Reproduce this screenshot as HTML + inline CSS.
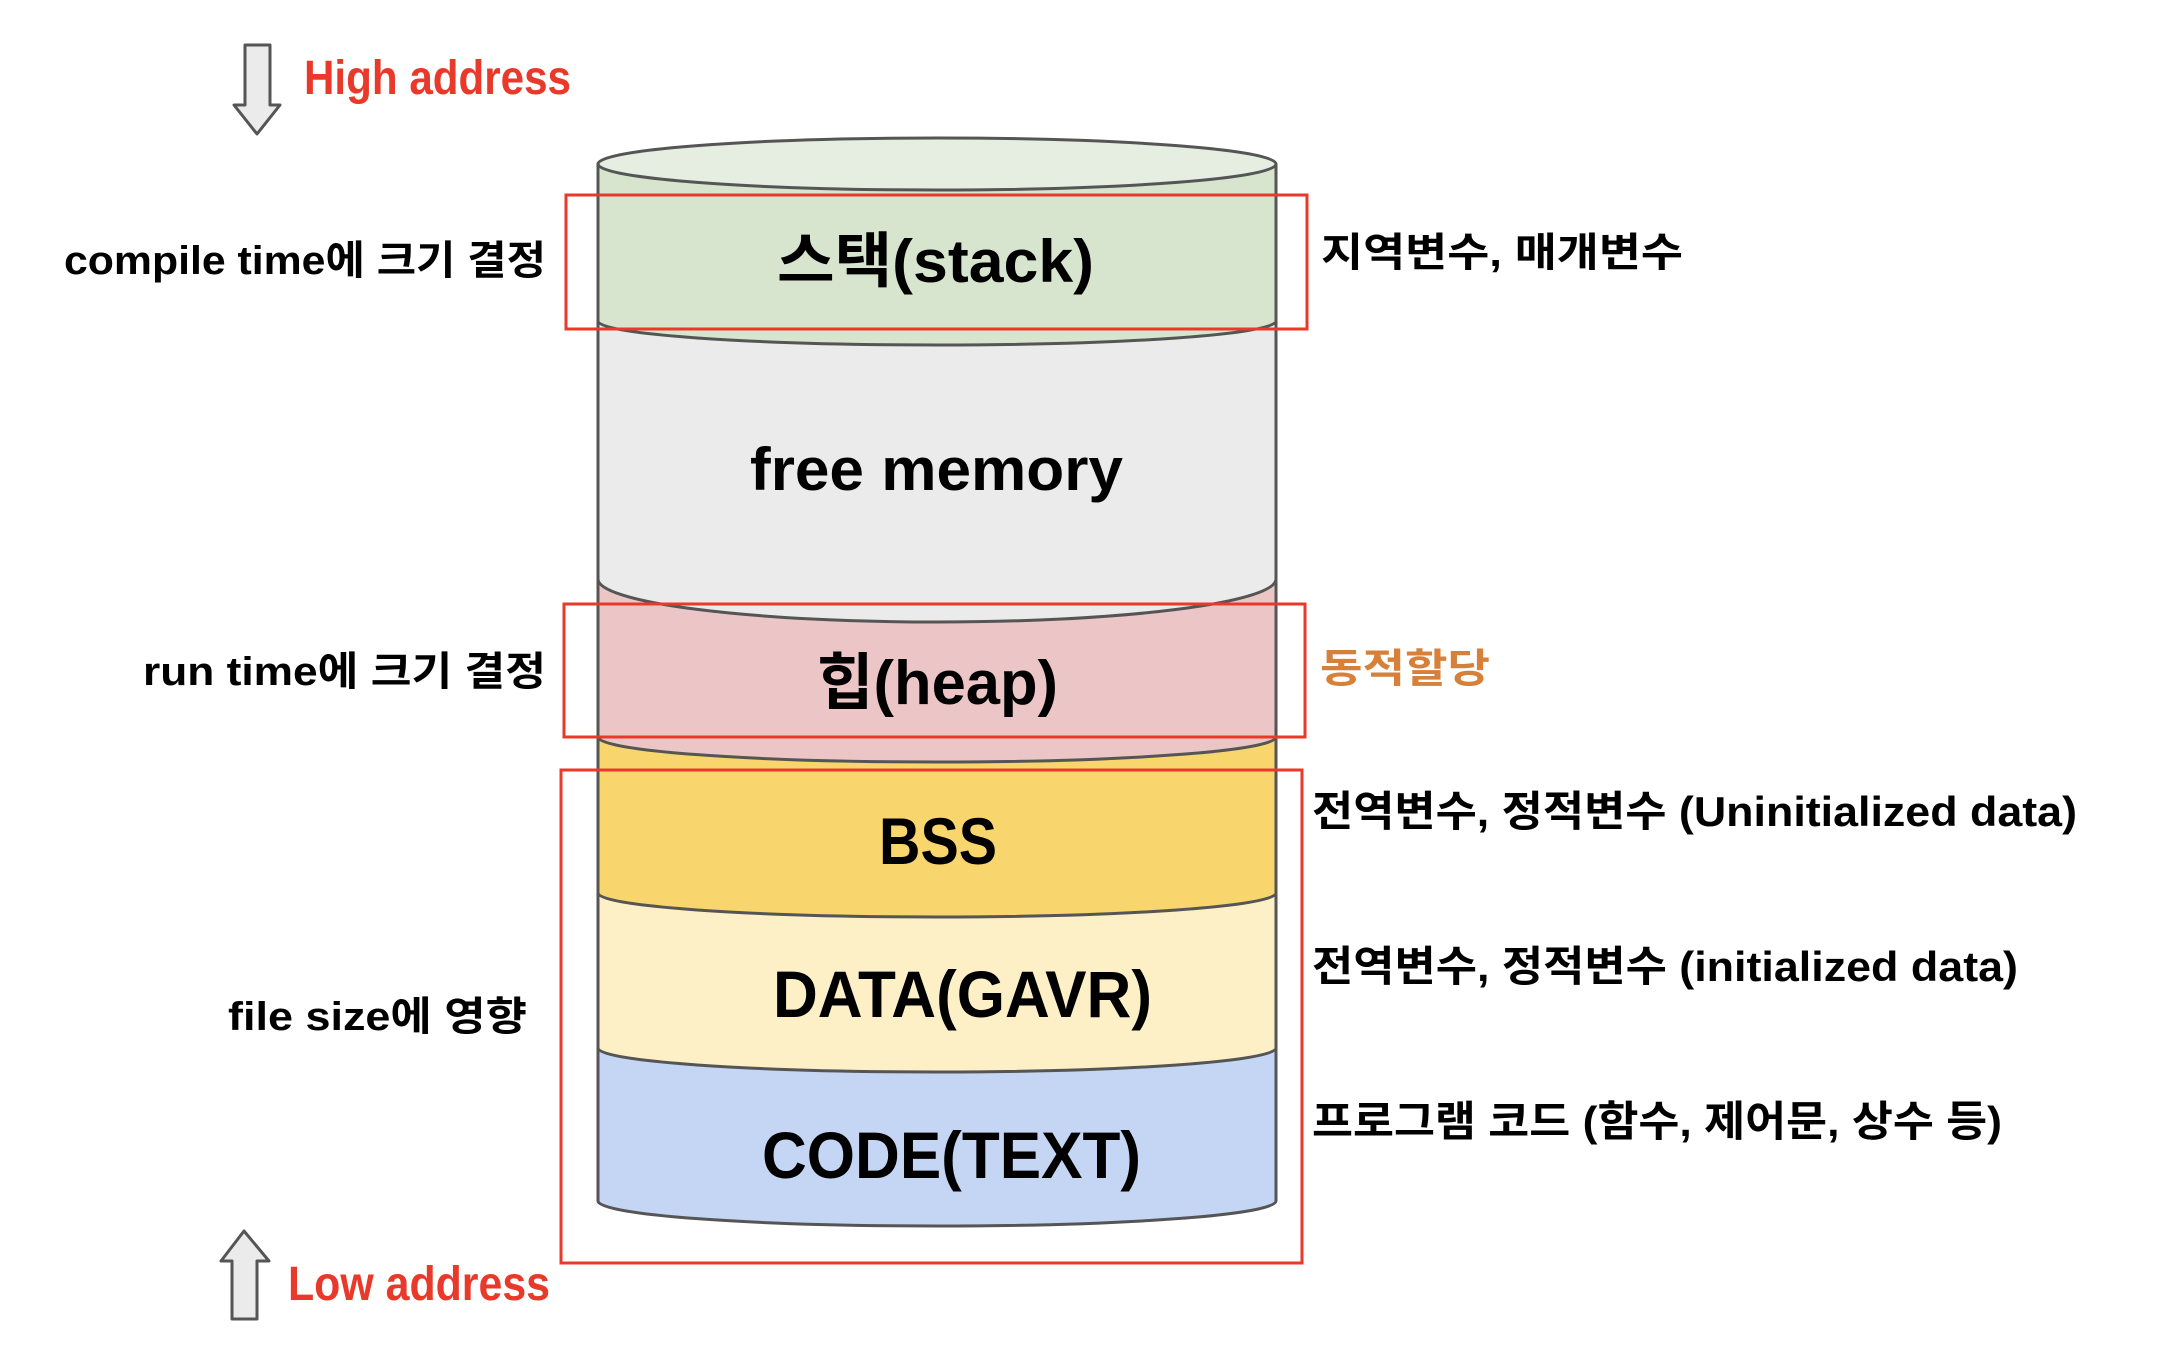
<!DOCTYPE html>
<html><head><meta charset="utf-8"><style>
html,body{margin:0;padding:0;background:#fff;}
svg{display:block}
text{font-family:"Liberation Sans","Noto Sans CJK KR",sans-serif;font-weight:bold;}
</style></head><body>
<svg width="2176" height="1366" viewBox="0 0 2176 1366" xmlns="http://www.w3.org/2000/svg">
<g stroke="#555" stroke-width="3" stroke-linejoin="round">
<path d="M598,1048 L598,1201 A339,25 0 0 0 1276,1201 L1276,1048 Z" fill="#c5d6f5"/>
<path d="M598,893 L598,1048 A339,24 0 0 0 1276,1048 L1276,893 Z" fill="#fdefc6"/>
<path d="M598,737 L598,893 A339,24 0 0 0 1276,893 L1276,737 Z" fill="#f9d56e"/>
<path d="M598,579 L598,737 A339,25 0 0 0 1276,737 L1276,579 Z" fill="#ecc6c6"/>
<path d="M598,321 L598,579 A339,43 0 0 0 1276,579 L1276,321 Z" fill="#ebebeb"/>
<path d="M598,164 L598,321 A339,24 0 0 0 1276,321 L1276,164 Z" fill="#d7e5cf"/>
<ellipse cx="937" cy="164" rx="339" ry="26" fill="#e5eee1"/>
</g>
<g fill="none" stroke="#e8392a" stroke-width="3">
<rect x="566" y="195" width="741" height="134"/>
<rect x="564" y="604" width="741" height="133"/>
<rect x="561" y="770" width="741" height="493"/>
</g>
<g fill="#ebebeb" stroke="#555" stroke-width="3" stroke-linejoin="round">
<path d="M245,45 L270,45 L270,105 L280,105 L257,134 L234,105 L245,105 Z"/>
<path d="M244,1231 L269,1261 L257,1261 L257,1319 L232,1319 L232,1261 L221,1261 Z"/>
</g>
<g fill="#e8392a">
<text x="304" y="94" font-size="48" textLength="267" lengthAdjust="spacingAndGlyphs">High address</text>
<text x="288" y="1300" font-size="48" textLength="262" lengthAdjust="spacingAndGlyphs">Low address</text>
</g>
<g fill="#000">
<text x="64" y="274" font-size="40" textLength="482" lengthAdjust="spacingAndGlyphs">compile time에 크기 결정</text>
<text x="143" y="685" font-size="40" textLength="403" lengthAdjust="spacingAndGlyphs">run time에 크기 결정</text>
<text x="228" y="1030" font-size="40" textLength="299" lengthAdjust="spacingAndGlyphs">file size에 영향</text>
<text x="777" y="282" font-size="60" textLength="317" lengthAdjust="spacingAndGlyphs">스택(stack)</text>
<text x="750" y="490" font-size="60" textLength="373" lengthAdjust="spacingAndGlyphs">free memory</text>
<text x="817" y="704" font-size="62" textLength="241" lengthAdjust="spacingAndGlyphs">힙(heap)</text>
<text x="879" y="864" font-size="66" textLength="118" lengthAdjust="spacingAndGlyphs">BSS</text>
<text x="773" y="1017" font-size="66" textLength="379" lengthAdjust="spacingAndGlyphs">DATA(GAVR)</text>
<text x="762" y="1178" font-size="66" textLength="379" lengthAdjust="spacingAndGlyphs">CODE(TEXT)</text>
<text x="1321" y="266" font-size="40" textLength="362" lengthAdjust="spacingAndGlyphs">지역변수, 매개변수</text>
<text x="1312" y="826" font-size="42" textLength="765" lengthAdjust="spacingAndGlyphs">전역변수, 정적변수 (Uninitialized data)</text>
<text x="1312" y="981" font-size="42" textLength="706" lengthAdjust="spacingAndGlyphs">전역변수, 정적변수 (initialized data)</text>
<text x="1312" y="1136" font-size="42" textLength="690" lengthAdjust="spacingAndGlyphs">프로그램 코드 (함수, 제어문, 상수 등)</text>
</g>
<text x="1320" y="682" font-size="40" fill="#d6803a" textLength="170" lengthAdjust="spacingAndGlyphs">동적할당</text>
</svg>
</body></html>
